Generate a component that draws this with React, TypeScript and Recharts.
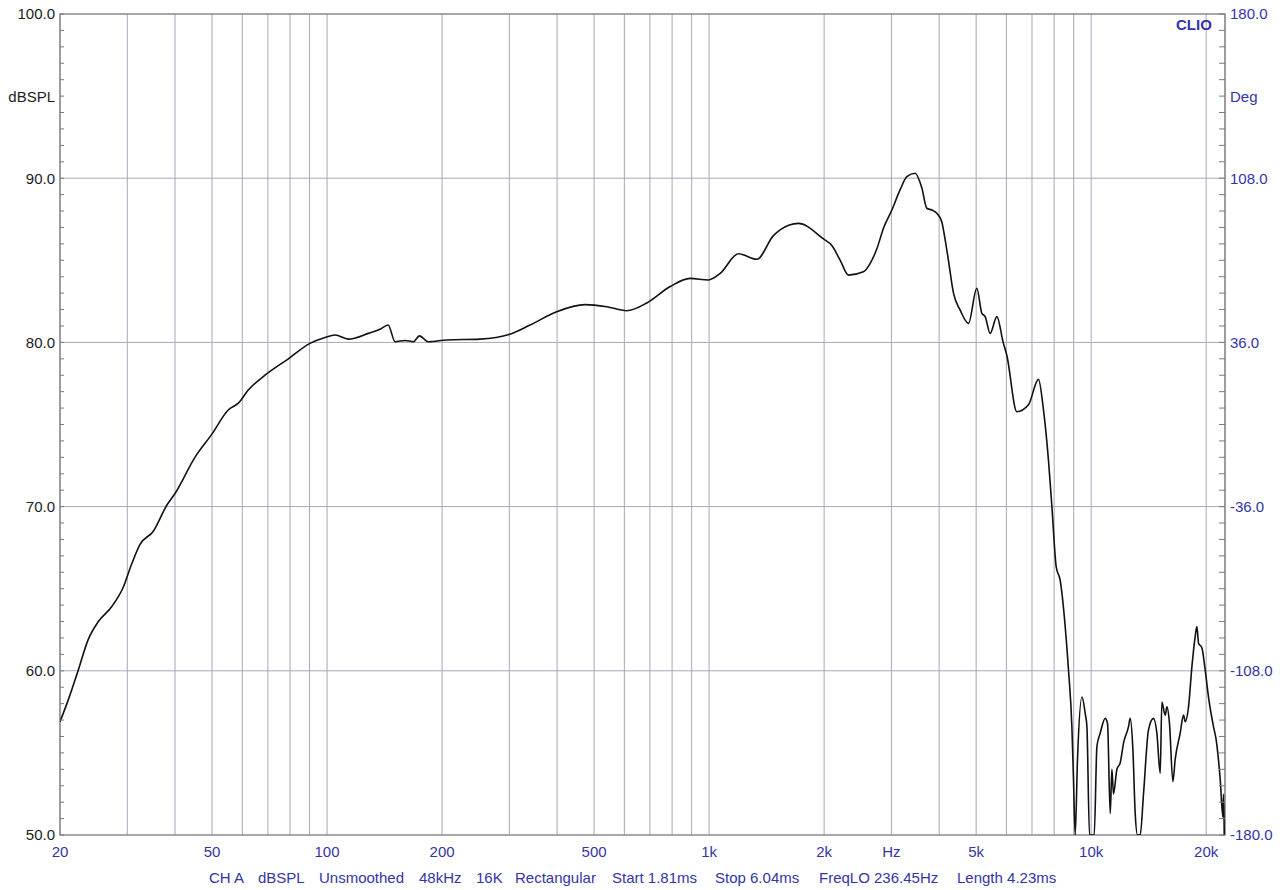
import React from 'react';
import { LineChart, Line, XAxis, YAxis, CartesianGrid, ReferenceLine, ReferenceArea } from 'recharts';

// Frequency (Hz) of each measured point
const freqHz = [
  20, 21.0, 22.3, 23.7, 25.2, 27.3, 29.3, 30.8, 32.4, 35.1, 38.1, 40, 45.1, 49.9, 55.2, 58.6, 62.2, 68.8, 79.2, 90.2,
  98.8, 105, 113.7, 128.3, 137.6, 144.5, 150.7, 160, 168.3, 174.5, 184, 206, 251, 301, 340, 399, 474, 540, 609, 687,
  791, 892, 996, 1069, 1193, 1333, 1473, 1534, 1713, 1992, 2095, 2204, 2316, 2534, 2638, 2748, 2860, 3008, 3162, 3292,
  3462, 3604, 3714, 3826, 3945, 4064, 4148, 4230, 4361, 4540, 4773, 5020, 5174, 5278, 5440, 5664, 5884, 6016, 6390, 6852,
  7278, 7500, 7732, 7892, 8098, 8296, 8550, 8722, 8902, 8988, 9082, 9208, 9456, 9646, 9746, 9900, 10184, 10352, 10558, 10882,
  11034, 11216, 11330, 11440, 11678, 11914, 12152, 12524, 12650, 12858, 13038, 13222, 13436, 13708, 14126, 14556, 14858, 15158, 15312, 15622,
  15782, 16030, 16362, 16590, 17100, 17446, 17620, 17978, 18350, 18718, 18912, 19092, 19486, 19880, 20280, 20900, 21240, 21760, 22120, 22200,
  22300,
];

// Sound pressure level (dBSPL) at each point
const splDb = [
  56.9, 58.2, 60.0, 61.9, 63.0, 63.9, 65.1, 66.5, 67.7, 68.5, 70.1, 70.8, 73.0, 74.4, 75.9, 76.3, 77.1, 78.0, 79.0, 79.94,
  80.3, 80.45, 80.2, 80.55, 80.8, 81.06, 80.04, 80.12, 80.04, 80.4, 80.04, 80.15, 80.2, 80.5, 81.06, 81.87, 82.3, 82.17, 81.93, 82.4,
  83.4, 83.9, 83.8, 84.2, 85.4, 85.06, 86.5, 86.85, 87.25, 86.3, 85.9, 85.0, 84.1, 84.3, 84.8, 85.7, 86.95, 88.06, 89.3, 90.09,
  90.3, 89.4, 88.17, 88.06, 87.86, 87.35, 86.24, 85.0, 83.0, 81.97, 81.16, 83.3, 81.77, 81.57, 80.55, 81.57, 80.0, 79.2, 75.78, 76.2,
  77.75, 75.9, 72.8, 70.0, 66.34, 65.5, 62.7, 60.05, 56.6, 53.4, 50.0, 54.6, 58.4, 57.4, 56.6, 50.0, 50.0, 55.4, 56.2, 57.1,
  56.8, 51.3, 54.0, 52.5, 54.0, 54.4, 55.6, 56.6, 57.1, 55.2, 51.3, 50.0, 50.0, 52.5, 56.4, 57.1, 56.2, 53.75, 58.1, 57.3,
  57.8, 56.8, 53.25, 54.6, 56.2, 57.3, 56.9, 57.8, 60.25, 62.1, 62.7, 61.7, 61.4, 60.05, 58.4, 56.6, 55.8, 53.4, 51.1, 52.5,
  50.0,
];

const gridFreqs = [20, 30, 40, 50, 60, 70, 80, 90, 100, 200, 300, 400, 500, 600, 700, 800, 900, 1000,
  2000, 3000, 4000, 5000, 6000, 7000, 8000, 9000, 10000, 20000];
const freqTickValues = [20, 50, 100, 200, 500, 1000, 2000, 3000, 5000, 10000, 20000];
const freqTickLabels = ['20', '50', '100', '200', '500', '1k', '2k', 'Hz', '5k', '10k', '20k'];

const dbMajor = [60, 70, 80, 90];
const dbTicks = Array.from({ length: 51 }, (_, i) => 50 + i);
const degTicks = Array.from({ length: 51 }, (_, i) => Math.round((-180 + i * 7.2) * 10) / 10);

const footerItems = ['CH A', 'dBSPL', 'Unsmoothed', '48kHz', '16K', 'Rectangular', 'Start 1.81ms', 'Stop 6.04ms', 'FreqLO 236.45Hz', 'Length 4.23ms'];
const footerX = [209, 258, 319, 419, 476, 515, 612, 715, 819, 957];

const data = freqHz.map((f, i) => ({ f, db: splDb[i] }));

const FONT = '"Liberation Sans", Arial, sans-serif';
const BLUE = '#3434a6';
const GRID = '#a6a6bc';

const DbTick = (props: any) => {
  const { x, y, payload } = props;
  const v = Math.round(payload.value);
  const label = v % 10 === 0 ? v.toFixed(1) : v === 95 ? 'dBSPL' : '';
  return (
    <g>
      <line x1={x + 5} x2={x + 9} y1={y} y2={y} stroke="#7a7a7a" strokeWidth={1} />
      {label && (
        <text x={x} y={y} dy="0.36em" textAnchor="end" fontSize={15} fontFamily={FONT} fill="#1c1c1c">
          {label}
        </text>
      )}
    </g>
  );
};

const DegTick = (props: any) => {
  const { x, y, payload } = props;
  const idx = Math.round((payload.value + 180) / 7.2);
  const label = idx % 10 === 0 ? Number(payload.value).toFixed(1) : idx === 45 ? 'Deg' : '';
  return (
    <g>
      <line x1={x - 11} x2={x - 5} y1={y} y2={y} stroke="#7a7a7a" strokeWidth={1} />
      {label && (
        <text x={x} y={y} dy="0.36em" textAnchor="start" fontSize={15} fontFamily={FONT} fill={BLUE}>
          {label}
        </text>
      )}
    </g>
  );
};

const FreqTick = (props: any) => {
  const { x, y, payload } = props;
  const k = freqTickValues.indexOf(payload.value);
  if (k < 0) return <g />;
  return (
    <text x={x} y={y} dy="0.71em" textAnchor="middle" fontSize={15} fontFamily={FONT} fill={BLUE}>
      {freqTickLabels[k]}
    </text>
  );
};

export default function App() {
  return (
    <div style={{ position: 'absolute', left: 0, top: 0, width: 1283, height: 890, background: '#fff' }}>
      <LineChart width={1283} height={890} data={data} margin={{ top: 14, right: 0, bottom: 0, left: 0 }}>
        <CartesianGrid vertical horizontal={false} stroke={GRID} yAxisId="db" />
        <XAxis
          dataKey="f"
          type="number"
          scale="log"
          domain={[20, 22400]}
          allowDataOverflow
          ticks={gridFreqs}
          interval={0}
          tickLine={false}
          axisLine={false}
          height={55}
          tickSize={0}
          tickMargin={11}
          tick={<FreqTick />}
        />
        <YAxis
          yAxisId="db"
          orientation="left"
          type="number"
          domain={[50, 100]}
          allowDataOverflow
          ticks={dbTicks}
          interval={0}
          width={60}
          tickLine={false}
          axisLine={false}
          tickSize={0}
          tickMargin={5}
          tick={<DbTick />}
        />
        <YAxis
          yAxisId="deg"
          orientation="right"
          type="number"
          domain={[-180, 180]}
          allowDataOverflow
          ticks={degTicks}
          interval={0}
          width={58}
          tickLine={false}
          axisLine={false}
          tickSize={0}
          tickMargin={5}
          tick={<DegTick />}
        />
        {dbMajor.map((v) => (
          <ReferenceLine key={v} y={v} yAxisId="db" stroke={GRID} strokeWidth={1} />
        ))}
        <ReferenceArea x1={20} x2={22400} y1={50} y2={100} yAxisId="db" fill="none" stroke="#8c8c8c" strokeWidth={1.5} />
        {/* invisible carrier so the phase axis is drawn (no phase trace in this plot) */}
        <Line
          yAxisId="deg"
          dataKey="db"
          type="linear"
          stroke="none"
          strokeOpacity={0}
          dot={false}
          activeDot={false}
          legendType="none"
          isAnimationActive={false}
        />
        <Line
          yAxisId="db"
          dataKey="db"
          type="monotone"
          stroke="#111"
          strokeWidth={1.6}
          dot={false}
          isAnimationActive={false}
        />
      </LineChart>
      <svg width={1283} height={890} style={{ position: 'absolute', left: 0, top: 0, pointerEvents: 'none' }}>
        <text x={1176} y={30} fontSize={15} fontWeight="bold" fontFamily={FONT} fill={BLUE}>CLIO</text>
        {footerItems.map((t, i) => (
          <text key={t} x={footerX[i]} y={883} fontSize={15} fontFamily={FONT} fill={BLUE}>{t}</text>
        ))}
      </svg>
    </div>
  );
}
